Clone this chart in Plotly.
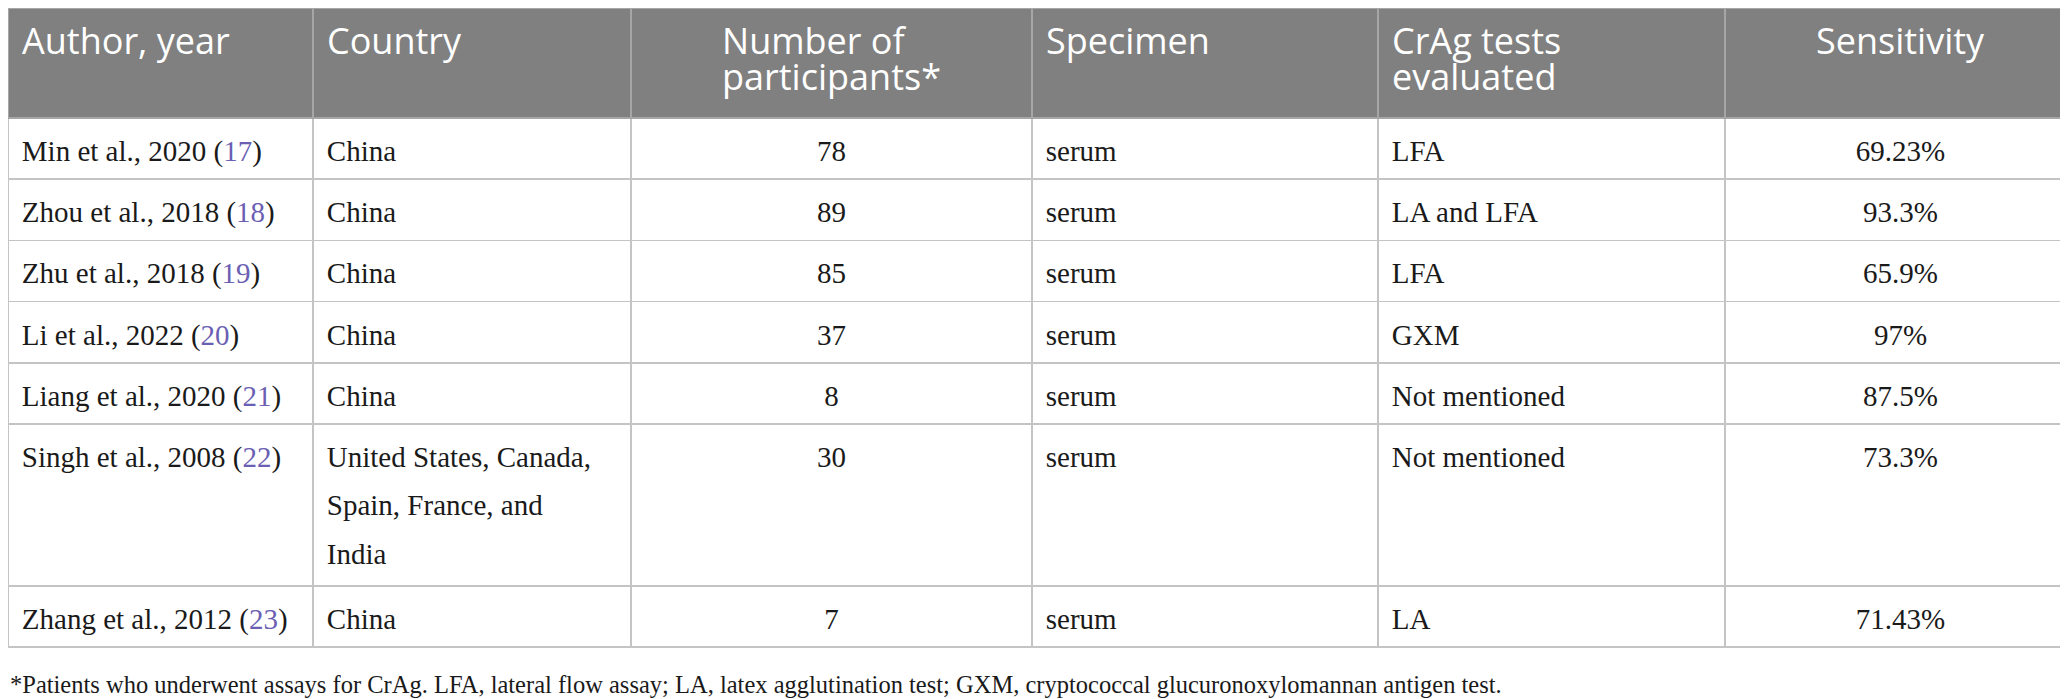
import plotly.graph_objects as go

# table contents
headers = ["Author, year", "Country", "Number of<br>participants*", "Specimen",
           "CrAg tests<br>evaluated", "Sensitivity"]
authors = ["Min et al., 2020", "Zhou et al., 2018", "Zhu et al., 2018", "Li et al., 2022",
           "Liang et al., 2020", "Singh et al., 2008", "Zhang et al., 2012"]
refs = [17, 18, 19, 20, 21, 22, 23]
countries = ["China", "China", "China", "China", "China",
             "United States, Canada,<br>Spain, France, and<br>India", "China"]
participants = [78, 89, 85, 37, 8, 30, 7]
specimens = ["serum"] * 7
crag_tests = ["LFA", "LA and LFA", "LFA", "GXM", "Not mentioned", "Not mentioned", "LA"]
sensitivity = ["69.23%", "93.3%", "65.9%", "97%", "87.5%", "73.3%", "71.43%"]
footnote = ("*Patients who underwent assays for CrAg. LFA, lateral flow assay; LA, latex "
            "agglutination test; GXM, cryptococcal glucuronoxylomannan antigen test.")

col_widths = [305, 318, 401, 346, 347, 351]
align = ["left", "left", "center", "left", "left", "center"]

BODY = 29          # body text size
BODY_BASE = 37.3   # sets spacing of wrapped lines
HEAD = 36          # header text size
HEAD_BASE = 27.5   # tighter spacing for two-line headers
TOP_STRUT = 39     # invisible nbsp sizes used to push text down / pad the tall row
BOTTOM_STRUT = 66
REF_COLOR = "#6b5fb3"
NB = "\u00a0"


def strut(size):
    return f"<span style='font-size:{size}px'>{NB}</span>"


def body_cell(txt, al):
    lines = str(txt).split("<br>")
    out = []
    for i, ln in enumerate(lines):
        s = f"<span style='font-size:{BODY}px'>" + ("\u2009" if al == "left" else "") + ln + "</span>"
        if i == 0:
            s = s + strut(TOP_STRUT)
            if al == "center":
                s = strut(TOP_STRUT) + s
        if i == len(lines) - 1 and len(lines) > 1:
            s = s + strut(BOTTOM_STRUT)
        out.append(s)
    # trailing <br> keeps plotly from re-wrapping the cell
    return "<br>".join(out) + "<br>"


def head_cell(txt, al):
    pad = "\u2009" if al == "left" else ""
    lines = txt.split("<br>")
    cell = "<br>".join(f"<span style='font-size:{HEAD}px'>{pad}{ln}</span>" for ln in lines)
    return cell + ("<br>" if len(lines) == 1 else "")


author_cells = [f"{a} (<span style='color:{REF_COLOR}'>{r}</span>)" for a, r in zip(authors, refs)]
columns = [author_cells, countries, participants, specimens, crag_tests, sensitivity]

cell_values = [[body_cell(v, al) for v in col] for col, al in zip(columns, align)]
header_values = [head_cell(h, al) for h, al in zip(headers, align)]

fig = go.Figure(go.Table(
    columnwidth=col_widths,
    header=dict(
        values=header_values,
        align=align,
        fill_color="#808080",
        line=dict(color="#a6a6a6", width=1.5),
        font=dict(family="Open Sans", size=HEAD_BASE, color="white"),
        height=110,
    ),
    cells=dict(
        values=cell_values,
        align=align,
        fill_color="white",
        line=dict(color="#c4c4c4", width=1.5),
        font=dict(family="Liberation Serif", size=BODY_BASE, color="#1a1a1a"),
        height=61.2,
    ),
    domain=dict(x=[0, 1], y=[0, 1]),
))

fig.add_annotation(
    text=footnote, xref="paper", yref="paper", x=0, y=(699 - 676) / 699,
    xanchor="left", yanchor="middle", showarrow=False,
    font=dict(family="Liberation Serif", size=24.5, color="#1a1a1a"),
)

fig.update_layout(
    width=2068, height=699,
    margin=dict(l=0, r=0, t=0, b=0),
    paper_bgcolor="white",
)

fig.write_html("out.html")
